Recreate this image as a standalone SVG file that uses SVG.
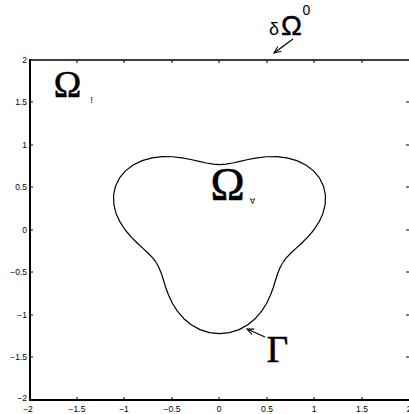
<svg xmlns="http://www.w3.org/2000/svg" xmlns:xlink="http://www.w3.org/1999/xlink" width="409" height="414" viewBox="0 0 409 414">
<style>
.ax{stroke:#000;fill:none}
.tk{stroke:#000;stroke-width:1}
.tl{font-family:"Liberation Sans",Arial,sans-serif;font-size:8.5px;fill:#000}
.big{font-family:"Liberation Serif","Times New Roman",serif;fill:#000;stroke:#000;stroke-width:0.6}
.sans{font-family:"Liberation Sans",Arial,sans-serif;fill:#000}
.conn{stroke:#000;stroke-width:1.2;fill:none}
</style>
<defs>
<marker id="ah" markerWidth="8" markerHeight="8" refX="7" refY="3.5" orient="auto" markerUnits="userSpaceOnUse">
<path d="M0,0.5 L7,3.5 L0,6.5" fill="none" stroke="#000" stroke-width="1.1"/>
</marker>
<path id="lobe" d="M-0.6668,-0.385 L-0.6371,-0.4461 -0.6129,-0.5143 -0.5911,-0.5911 -0.5673,-0.676 -0.5373,-0.7674 -0.4975,-0.8617 -0.4451,-0.9545 -0.3788,-1.0407 -0.2987,-1.1147 -0.2066,-1.1718 -0.1057,-1.2077 0,-1.22 0.1057,-1.2077 0.2066,-1.1718 0.2987,-1.1147 0.3788,-1.0407 0.4451,-0.9545 0.4975,-0.8617 0.5373,-0.7674 0.5673,-0.676 0.5911,-0.5911 0.6129,-0.5143 0.6371,-0.4461 0.6668,-0.385" fill="none" stroke="#000" stroke-width="1.2" stroke-linejoin="round" vector-effect="non-scaling-stroke"/>
</defs>
<rect width="409" height="414" fill="#fff"/>
<g id="axes">
<line class="ax" x1="30" y1="60" x2="409" y2="60" stroke-width="1.6"/>
<line class="ax" x1="30" y1="59" x2="30" y2="401" stroke-width="2"/>
<line class="ax" x1="29" y1="400" x2="409" y2="400" stroke-width="2"/>
<g class="tk">
<path d="M77,60v3M124,60v3M172,60v3M219,60v3M267,60v3M314,60v3M362,60v3"/>
<path d="M77,400v-3M124,400v-3M172,400v-3M219,400v-3M267,400v-3M314,400v-3M362,400v-3"/>
<path d="M30,102h3M30,145h3M30,187h3M30,230h3M30,272h3M30,315h3M30,357h3"/>
<path d="M409,102h-3M409,145h-3M409,187h-3M409,230h-3M409,272h-3M409,315h-3M409,357h-3"/>
</g>
<g class="tl" text-anchor="end">
<text x="27" y="63">2</text>
<text x="27" y="105">1.5</text>
<text x="27" y="148">1</text>
<text x="27" y="190">0.5</text>
<text x="27" y="233">0</text>
<text x="27" y="275">−0.5</text>
<text x="27" y="318">−1</text>
<text x="27" y="360">−1.5</text>
<text x="27" y="401">−2</text>
</g>
<g class="tl" text-anchor="middle">
<text x="28" y="412">−2</text>
<text x="77" y="412">−1.5</text>
<text x="124" y="412">−1</text>
<text x="172" y="412">−0.5</text>
<text x="219" y="412">0</text>
<text x="267" y="412">0.5</text>
<text x="314" y="412">1</text>
<text x="362" y="412">1.5</text>
<text x="409" y="412">2</text>
</g>
</g>
<g id="boundary-gamma" transform="translate(219.5,230) scale(94.75,-85)">
<use xlink:href="#lobe" href="#lobe"/>
<use xlink:href="#lobe" href="#lobe" transform="rotate(120)"/>
<use xlink:href="#lobe" href="#lobe" transform="rotate(240)"/>
</g>
<g id="label-omega-outer">
<text class="big" x="67.5" y="97" font-size="37" text-anchor="middle">Ω</text>
<text class="sans" x="91.5" y="103" font-size="9.5" text-anchor="middle">!</text>
</g>
<g id="label-omega-inner">
<text class="big" x="227.5" y="200" font-size="46" text-anchor="middle">Ω</text>
<text x="252.5" y="204" font-size="8" text-anchor="middle" font-family="DejaVu Sans,sans-serif">∀</text>
</g>
<g id="label-delta-omega">
<text class="sans" x="269" y="35" font-size="18">δ</text>
<text class="sans" x="291.5" y="35" font-size="28" text-anchor="middle" stroke="#000" stroke-width="0.5">Ω</text>
<text class="sans" x="302.5" y="14.5" font-size="14">0</text>
</g>
<g id="label-gamma">
<text class="big" x="277.5" y="362" font-size="37" text-anchor="middle">Γ</text>
</g>
<g id="connectors">
<line class="conn" x1="293" y1="39" x2="274" y2="53" marker-end="url(#ah)"/>
<line class="conn" x1="265" y1="337" x2="247" y2="329" marker-end="url(#ah)"/>
</g>
</svg>
